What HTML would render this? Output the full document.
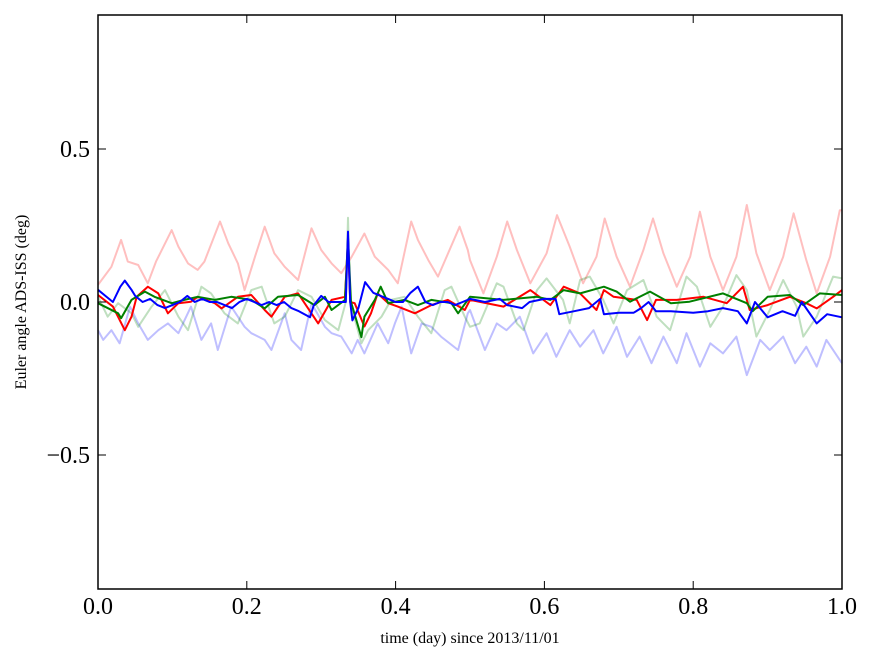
<!DOCTYPE html>
<html><head><meta charset="utf-8"><style>
html,body{margin:0;padding:0;background:#fff;}
svg{display:block;font-family:"Liberation Serif",serif;}
</style></head><body>
<svg id="chart" width="875" height="662" xmlns="http://www.w3.org/2000/svg">
<rect x="0" y="0" width="875" height="662" fill="#fff"/>
<g id="series"></g>
<g id="axes"></g>
<text x="470" y="643" font-size="16" text-anchor="middle">time (day) since 2013/11/01</text>
<text transform="translate(26,302) rotate(-90)" font-size="16" text-anchor="middle">Euler angle ADS-ISS (deg)</text>
</svg>
<script>
const xTicks=[0,0.2,0.4,0.6,0.8,1.0];
const xTickLabels=["0.0","0.2","0.4","0.6","0.8","1.0"];
const yTicks=[-0.5,0,0.5];
const yTickLabels=["\u22120.5","0.0","0.5"];

const tFaintRed=[0,.018,.031,.04,.054,.067,.078,.099,.108,.121,.134,.143,.164,.175,.188,.197,.211,.224,.237,.251,.269,.287,.3,.314,.327,.341,.358,.372,.39,.403,.421,.43,.444,.457,.486,.497,.5,.518,.536,.55,.563,.581,.603,.617,.634,.652,.67,.681,.697,.715,.733,.746,.76,.778,.796,.809,.823,.84,.858,.872,.885,.903,.921,.935,.952,.966,.984,.997,1.0];
const vFaintRed=[.056,.115,.203,.132,.121,.061,.132,.235,.181,.126,.105,.132,.263,.192,.126,.039,.148,.246,.159,.115,.072,.241,.17,.126,.094,.148,.224,.148,.105,.061,.263,.203,.137,.083,.246,.17,.137,.028,.148,.263,.17,.061,.159,.284,.181,.061,.148,.273,.148,.05,.17,.273,.159,.05,.148,.295,.148,.039,.148,.317,.159,.039,.148,.29,.137,.028,.148,.30,.30];

const tFaintBlue=[0,.007,.018,.029,.043,.054,.067,.081,.094,.108,.125,.139,.152,.161,.179,.197,.206,.224,.233,.251,.26,.273,.287,.305,.314,.327,.341,.349,.358,.376,.39,.399,.408,.421,.435,.448,.461,.484,.497,.5,.52,.536,.549,.567,.585,.603,.616,.634,.648,.666,.679,.697,.711,.728,.744,.76,.778,.791,.809,.823,.84,.858,.872,.89,.903,.921,.937,.952,.966,.979,.997,1.0];
const vFaintBlue=[-.092,-.124,-.092,-.135,-.015,-.07,-.124,-.092,-.07,-.102,-.015,-.124,-.07,-.157,-.015,-.081,-.102,-.124,-.157,-.037,-.124,-.157,-.004,-.081,-.102,-.113,-.168,-.124,-.168,-.07,-.135,-.07,-.015,-.168,-.07,-.081,-.113,-.157,-.037,-.026,-.157,-.07,-.092,-.048,-.168,-.102,-.179,-.092,-.146,-.092,-.168,-.081,-.179,-.113,-.2,-.113,-.2,-.102,-.211,-.135,-.168,-.113,-.239,-.124,-.157,-.113,-.2,-.146,-.211,-.124,-.19,-.2];

const tFaintGreen=[0,.013,.027,.045,.054,.072,.09,.108,.121,.139,.152,.17,.188,.206,.22,.237,.251,.269,.287,.305,.323,.333,.336,.339,.354,.363,.381,.394,.412,.43,.448,.466,.475,.493,.5,.513,.536,.545,.563,.572,.59,.603,.625,.634,.648,.661,.679,.693,.711,.733,.751,.769,.791,.805,.823,.84,.858,.872,.885,.903,.921,.939,.948,.966,.988,1.0];
const vFaintGreen=[.017,-.048,-.004,-.037,-.081,-.015,.039,-.048,-.092,.05,.028,-.037,-.07,.039,.05,-.07,-.048,.039,.017,-.059,-.092,.0,.275,.0,-.135,-.092,-.048,.007,.017,-.048,-.102,.039,.05,-.048,-.081,-.07,.061,.05,-.07,-.092,.039,.077,.007,-.07,.072,.083,.007,-.07,.039,.072,-.048,-.092,.083,.05,-.081,-.015,.088,.039,-.113,-.026,.072,-.015,-.113,-.048,.083,.077];

const tRed=[0,.02,.036,.045,.052,.067,.081,.094,.108,.125,.134,.157,.166,.188,.206,.224,.233,.251,.269,.296,.314,.332,.336,.339,.345,.358,.367,.376,.39,.403,.426,.448,.47,.493,.5,.545,.581,.608,.626,.648,.67,.68,.693,.724,.738,.75,.778,.814,.845,.867,.876,.9,.93,.952,.966,.988,1.0];
const vRed=[.023,-.015,-.092,-.048,.017,.05,.028,-.037,-.004,.001,.017,-.004,-.021,.017,.023,-.026,-.048,.017,.028,-.07,.007,.017,.2,.0,-.004,-.08,-.037,.028,-.004,-.015,-.037,-.01,.007,-.026,.007,-.015,.039,-.01,.05,.028,-.026,.039,.017,.007,-.059,.007,.007,.017,-.004,.05,-.026,-.01,.017,-.004,-.021,.017,.039];

const tGreen=[0,.027,.031,.045,.063,.076,.099,.116,.134,.157,.179,.206,.224,.242,.269,.291,.305,.314,.332,.336,.34,.354,.358,.372,.38,.39,.412,.43,.448,.475,.484,.5,.545,.59,.608,.626,.648,.68,.697,.715,.742,.77,.795,.84,.872,.88,.9,.93,.948,.97,1.0];
const vGreen=[-.004,-.037,-.053,.007,.034,.017,-.004,.007,.017,.007,.017,.007,-.021,.017,.023,-.01,.017,-.026,.007,.21,.0,-.115,-.048,.007,.05,-.004,.007,-.01,.007,-.004,-.037,.017,.007,.017,.007,.039,.028,.05,.034,.001,.034,-.004,.001,.028,-.004,-.03,.017,.023,-.01,.028,.023];

const tBlue=[0,.01,.02,.03,.036,.045,.05,.06,.07,.08,.09,.1,.11,.12,.13,.14,.15,.16,.17,.18,.19,.2,.21,.22,.23,.24,.25,.26,.27,.285,.29,.3,.31,.32,.333,.336,.339,.342,.35,.359,.37,.38,.39,.4,.41,.42,.43,.44,.45,.46,.47,.48,.49,.5,.52,.54,.55,.57,.58,.6,.615,.62,.64,.66,.675,.68,.7,.72,.73,.74,.75,.77,.8,.82,.84,.86,.872,.883,.9,.92,.937,.946,.966,.98,1.0];
const vBlue=[.04,.02,.0,.05,.07,.04,.02,.0,.01,-.01,-.02,-.01,.0,.02,.0,.01,.0,.0,-.01,-.02,.0,.01,.0,-.01,.0,-.01,.0,-.02,-.03,-.05,-.01,.02,.0,.0,.0,.23,.0,-.06,-.02,.065,.03,.02,.01,.0,.0,.03,.05,.0,-.01,.0,.0,-.01,.0,.01,.0,.01,-.01,-.02,.0,.01,.01,-.04,-.03,-.02,.01,-.04,-.035,-.035,-.02,.0,-.03,-.03,-.035,-.03,-.02,-.03,-.07,.0,-.05,-.03,-.045,.0,-.07,-.04,-.05];

const X0=98,X1=842,Y0=15,Y1=589,YZ=302,YS=306;
function xs(t){return X0+(X1-X0)*t;}
function ys(v){return YZ-v*YS;}
const NS='http://www.w3.org/2000/svg';
const sg=document.getElementById('series');
const ag=document.getElementById('axes');

function addLine(ts,vs,color,opacity,name){
  let d='';
  for(let i=0;i<ts.length;i++){d+=(i?'L':'M')+xs(ts[i]).toFixed(1)+' '+ys(vs[i]).toFixed(1);}
  const p=document.createElementNS(NS,'path');
  p.setAttribute('d',d);p.setAttribute('fill','none');p.setAttribute('stroke',color);
  p.setAttribute('stroke-width','2');p.setAttribute('stroke-opacity',opacity);p.setAttribute('stroke-linejoin','round');
  
  
  sg.appendChild(p);
}
addLine(tFaintRed,vFaintRed,'#ff0000',0.25,'faint-red-series');
addLine(tFaintBlue,vFaintBlue,'#0000ff',0.25,'faint-blue-series');
addLine(tFaintGreen,vFaintGreen,'#008000',0.25,'faint-green-series');
addLine(tRed,vRed,'#ff0000',1,'red-series');
addLine(tGreen,vGreen,'#008000',1,'green-series');
addLine(tBlue,vBlue,'#0000ff',1,'blue-series');

const frame=document.createElementNS(NS,'rect');
frame.setAttribute('x',X0);frame.setAttribute('y',Y0);frame.setAttribute('width',X1-X0);frame.setAttribute('height',Y1-Y0);
frame.setAttribute('fill','none');frame.setAttribute('stroke','#000');frame.setAttribute('stroke-width','1.5');


ag.appendChild(frame);

function tick(x1,y1,x2,y2){
  const l=document.createElementNS(NS,'line');
  l.setAttribute('x1',x1);l.setAttribute('y1',y1);l.setAttribute('x2',x2);l.setAttribute('y2',y2);
  l.setAttribute('stroke','#000');l.setAttribute('stroke-width','1');
  
  
  ag.appendChild(l);
}
function label(x,y,txt,anchor){
  const t=document.createElementNS(NS,'text');
  t.setAttribute('x',x);t.setAttribute('y',y);t.setAttribute('font-size','24');t.setAttribute('text-anchor',anchor);
  t.textContent=txt;
  
  
  ag.appendChild(t);
}
xTicks.forEach((v,i)=>{const x=xs(v);tick(x,Y1,x,Y1-8);tick(x,Y0,x,Y0+8);label(x,614,xTickLabels[i],'middle');});
yTicks.forEach((v,i)=>{const y=ys(v);tick(X0,y,X0+8,y);tick(X1,y,X1-8,y);label(90,y+8,yTickLabels[i],'end');});
</script>
</body></html>
